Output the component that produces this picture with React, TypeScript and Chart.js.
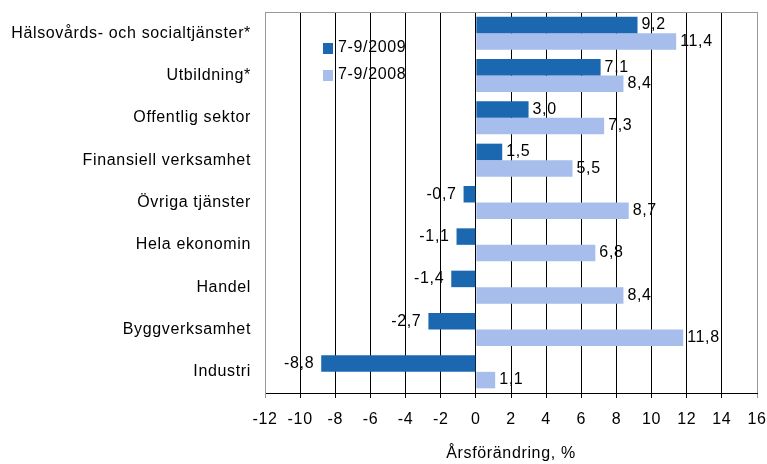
import React, { useEffect, useRef } from "react";
import { Chart, registerables } from "chart.js";

Chart.register(...registerables);

const categories = [
  "Hälsovårds- och socialtjänster*",
  "Utbildning*",
  "Offentlig sektor",
  "Finansiell verksamhet",
  "Övriga tjänster",
  "Hela ekonomin",
  "Handel",
  "Byggverksamhet",
  "Industri",
];
const series2009 = [9.2, 7.1, 3.0, 1.5, -0.7, -1.1, -1.4, -2.7, -8.8];
const series2008 = [11.4, 8.4, 7.3, 5.5, 8.7, 6.8, 8.4, 11.8, 1.1];
const seriesNames = ["7-9/2009", "7-9/2008"];
const xMin = -12;
const xMax = 16;
const xStep = 2;
const xTitle = "Årsförändring, %";

const FONT = "'Liberation Sans', Arial, sans-serif";
const FS = 16;
const DARK = "#1B68B1";
const LIGHT = "#A7BDEB";

const fmt = (v: number) => v.toFixed(1).replace(".", ",");

const spacingPlugin = {
  id: "spacing",
  beforeInit(chart: any) {
    chart.ctx.letterSpacing = "0.65px";
  },
  beforeDraw(chart: any) {
    chart.ctx.letterSpacing = "0.65px";
  },
};

const labelPlugin = {
  id: "barLabels",
  afterDatasetsDraw(chart: any) {
    const ctx = chart.ctx;
    ctx.save();
    ctx.font = `${FS}px ${FONT}`;
    ctx.fillStyle = "#000";
    ctx.textBaseline = "middle";
    chart.data.datasets.forEach((ds: any, di: number) => {
      const meta = chart.getDatasetMeta(di);
      meta.data.forEach((el: any, i: number) => {
        const v = ds.data[i];
        const txt = fmt(v);
        if (v >= 0) {
          ctx.textAlign = "left";
          ctx.fillText(txt, el.x + 4, el.y);
        } else {
          ctx.textAlign = "right";
          ctx.fillText(txt, el.x - 7, el.y);
        }
      });
    });
    ctx.restore();
  },
};

const legendPlugin = {
  id: "insideLegend",
  afterDraw(chart: any) {
    const ctx = chart.ctx;
    ctx.save();
    ctx.font = `${FS}px ${FONT}`;
    ctx.textBaseline = "middle";
    ctx.textAlign = "left";
    const x = 323;
    const ys = [48, 75];
    chart.data.datasets.forEach((ds: any, i: number) => {
      ctx.fillStyle = ds.backgroundColor;
      ctx.fillRect(x, ys[i] - 5, 10, 11);
      ctx.fillStyle = "#000";
      ctx.fillText(ds.label, x + 15, ys[i]);
    });
    ctx.restore();
  },
};

export default function App() {
  const ref = useRef<HTMLCanvasElement>(null);
  useEffect(() => {
    if (!ref.current) return;
    const chart = new Chart(ref.current, {
      type: "bar",
      data: {
        labels: categories,
        datasets: [
          { label: seriesNames[0], data: series2009, backgroundColor: DARK, borderWidth: 0 },
          { label: seriesNames[1], data: series2008, backgroundColor: LIGHT, borderWidth: 0 },
        ],
      },
      options: {
        indexAxis: "y",
        animation: false,
        responsive: false,
        maintainAspectRatio: false,
        layout: { padding: { left: 0, right: 10, top: 12, bottom: 0 } },
        datasets: { bar: { categoryPercentage: 0.78, barPercentage: 1 } },
        plugins: { legend: { display: false }, tooltip: { enabled: false } },
        scales: {
          x: {
            min: xMin,
            max: xMax,
            afterFit: (s: any) => {
              s.height = 71;
              s.paddingLeft = 0;
              s.paddingRight = 0;
            },
            ticks: {
              stepSize: xStep,
              color: "#000",
              font: { family: FONT, size: FS },
              padding: 12,
              maxRotation: 0,
            },
            grid: {
              color: (c: any) =>
                c.tick && (c.tick.value === xMin || c.tick.value === xMax) ? "#999" : "#000",
              lineWidth: 1,
              tickLength: 5,
              drawTicks: true,
            },
            border: { color: "#000" },
            title: {
              display: true,
              text: xTitle,
              color: "#000",
              font: { family: FONT, size: FS },
              padding: { top: 0, bottom: 1 },
            },
          },
          y: {
            afterFit: (s: any) => {
              s.width = 265;
              s.paddingTop = 0;
              s.paddingBottom = 0;
            },
            ticks: { color: "#000", font: { family: FONT, size: FS }, padding: 14 },
            grid: { display: false, drawTicks: false },
            border: { color: "#999" },
          },
        },
      },
      plugins: [
        spacingPlugin,
        labelPlugin,
        legendPlugin,
        {
          id: "topBorder",
          afterDraw(chart: any) {
            const { ctx, chartArea } = chart;
            ctx.save();
            ctx.strokeStyle = "#999";
            ctx.lineWidth = 1;
            ctx.beginPath();
            ctx.moveTo(chartArea.left, chartArea.top + 0.5);
            ctx.lineTo(chartArea.right, chartArea.top + 0.5);
            ctx.stroke();
            ctx.restore();
          },
        },
      ],
    } as any);
    return () => chart.destroy();
  }, []);
  return (
    <div style={{ position: "fixed", left: 0, top: 0, width: 767, height: 464, background: "#fff" }}>
      <canvas ref={ref} width={767} height={464} style={{ width: 767, height: 464 }} />
    </div>
  );
}
